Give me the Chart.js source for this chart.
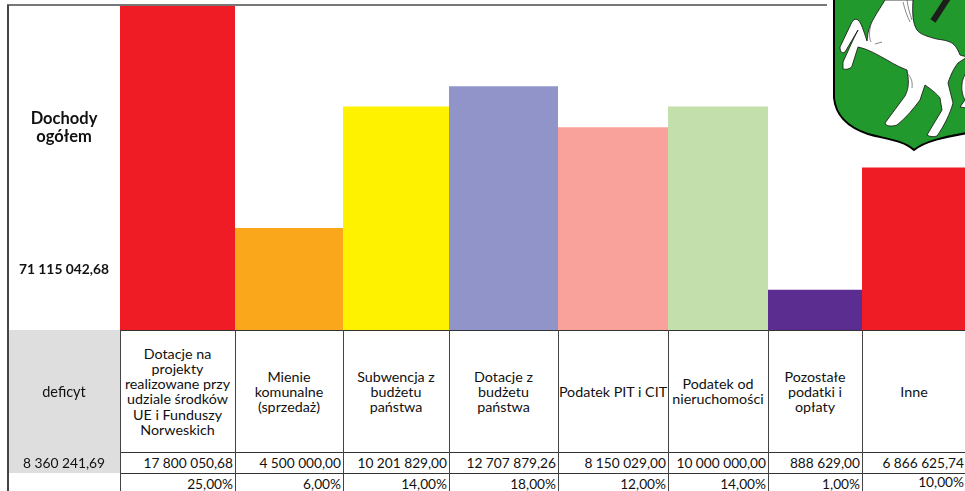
<!DOCTYPE html>
<html>
<head>
<meta charset="utf-8">
<script src="https://cdn.jsdelivr.net/npm/chart.js@4"></script>
<style>
  html, body { margin: 0; padding: 0; background: #fff; overflow: hidden; }
  body { width: 965px; height: 491px; position: relative; font-family: Lato, sans-serif; color: #111; }
  #chart { position: absolute; left: 120px; top: 5px; }
  .line { position: absolute; background: #333; }
  .cell { position: absolute; white-space: pre-line; text-align: center; font-size: 14.3px; line-height: 15.3px; }
  .num { position: absolute; text-align: right; font-size: 13.7px; line-height: 16px; white-space: nowrap; }
  svg { position: absolute; left: 0; top: 0; }
</style>
</head>
<body>
<svg width="965" height="491">
  <rect x="8" y="330" width="112" height="143" fill="#dedede"/>
  <path d="M834,-2 L834,98 C836,118 850,128 868,134 C885,139 903,140 914,150 C925,141 945,137 967,133 L967,-2 Z" fill="#22992c" stroke="#000" stroke-width="2"/>
  <path d="M885,0 C878,12 870,22 868,33 L867,41 C864,32 861,22 858,20 C855,18 853,20 851,24 L840,47 C840,52 842,54 845,52 L858,30 L853,40 L843,62 L843,69 C848,70 851,68 852,66 L858,47 C868,49 878,55 887,60 C895,65 902,68 907,70 L908,77 C909,84 908,90 905,96 L885,123 C886,126 890,127 897,125 C906,118 914,108 920,100 L925,85 C932,90 937,94 940,98 L942,110 L927,135 C930,137 934,137 937,136 C944,126 950,114 953,103 L948,83 C951,74 954,68 958,63 L967,57 L960,55 C957,47 954,44 950,42 C943,39 938,40 933,38 C926,36 920,34 917,30 C913,24 912,14 913,0 Z" fill="#fff" stroke="#111" stroke-width="0.8"/>
  <path d="M967,72 C961,78 960,92 965,100 L960,107 L967,108 Z" fill="#fff" stroke="#111" stroke-width="0.8"/>
  <path d="M903,2 C905,10 907,16 910,22 M907,0 C908,8 910,14 912,20 M871,24 C869,32 869,38 871,42 M906,72 C910,76 913,80 912,88 M875,44 L882,42" fill="none" stroke="#555" stroke-width="0.7"/>
  <path d="M933,21 L948,-2" stroke="#1d1d1b" stroke-width="6" fill="none"/>
</svg>
<canvas id="chart" width="845" height="325"></canvas>
<script>
// column data
const categories = [
  'Dotacje na\nprojekty\nrealizowane przy\nudziale środków\nUE i Funduszy\nNorweskich',
  'Mienie\nkomunalne\n(sprzedaż)',
  'Subwencja z\nbudżetu\npaństwa',
  'Dotacje z\nbudżetu\npaństwa',
  'Podatek PIT i CIT',
  'Podatek od\nnieruchomości',
  'Pozostałe\npodatki i\nopłaty',
  'Inne'
];
const amounts = ['17 800 050,68', '4 500 000,00', '10 201 829,00', '12 707 879,26', '8 150 029,00', '10 000 000,00', '888 629,00', '6 866 625,74'];
const percents = ['25,00%', '6,00%', '14,00%', '18,00%', '12,00%', '14,00%', '1,00%', '10,00%'];
// the drawn bars are not proportional to the amounts, so these are the heights as seen
const barHeights = [25, 7.85, 17.2, 18.75, 15.6, 17.2, 3.1, 12.5];
const barColors = ['#ef1c25', '#fba71b', '#fff200', '#9194c9', '#f8a29b', '#c3e0ac', '#5c2d91', '#ef1c25'];
// column edges on the page, the columns are not all the same width
const colEdges = [120, 235, 343, 449, 558, 668, 768, 862, 966];

// bars get the width of their table column
const columnWidths = {
  id: 'columnWidths',
  afterDatasetsUpdate(chart) {
    chart.getDatasetMeta(0).data.forEach((bar, i) => {
      bar.x = (colEdges[i] + colEdges[i + 1]) / 2 - colEdges[0];
      bar.width = colEdges[i + 1] - colEdges[i];
    });
  }
};

new Chart(document.getElementById('chart').getContext('2d'), {
  type: 'bar',
  data: {
    labels: categories,
    datasets: [{ data: barHeights, backgroundColor: barColors, borderWidth: 0 }]
  },
  options: {
    responsive: false,
    animation: false,
    layout: { padding: 0 },
    plugins: { legend: { display: false }, tooltip: { enabled: false } },
    scales: {
      x: { display: false },
      y: { display: false, min: 0, max: 25 }
    }
  },
  plugins: [columnWidths]
});

// table part under the bars
function addEl(cls, text, css) {
  const el = document.createElement('div');
  el.className = cls;
  el.textContent = text;
  Object.assign(el.style, css);
  document.body.appendChild(el);
  return el;
}
function addLine(x, y, w, h, color) {
  addEl('line', '', { left: x + 'px', top: y + 'px', width: w + 'px', height: h + 'px', background: color || '#333' });
}

addLine(7, 4, 820, 1.5, '#777');
addLine(7, 5, 1.5, 486, '#444');
addLine(120, 330, 845, 1.2);
addLine(120, 452, 845, 1);
addLine(120, 473, 845, 1);
colEdges.slice(0, 8).forEach(x => addLine(x, 330, 1, 161, '#444'));

categories.forEach((label, i) => {
  const left = colEdges[i], width = colEdges[i + 1] - left;
  const lines = label.split('\n').length;
  addEl('cell', label, {
    left: left + 'px', width: width + 'px',
    top: (391.5 - lines * 15.3 / 2) + 'px'
  });
  addEl('num', amounts[i], { left: left + 'px', width: (width - 2) + 'px', top: '455px' });
  addEl('num', percents[i], { left: left + 'px', width: (width - 2) + 'px', top: i === 7 ? '474px' : '476px' });
});

addEl('cell', 'Dochody\nogółem', { left: '8px', width: '112px', top: '109px', fontWeight: 700, fontSize: '16.5px', lineHeight: '18px' });
addEl('cell', '71 115 042,68', { left: '8px', width: '112px', top: '261px', fontWeight: 700, fontSize: '13.8px' });
addEl('cell', 'deficyt', { left: '8px', width: '112px', top: '384px', fontSize: '14.5px' });
addEl('cell', '8 360 241,69', { left: '8px', width: '112px', top: '455px', fontSize: '13.8px' });
</script>
</body>
</html>
